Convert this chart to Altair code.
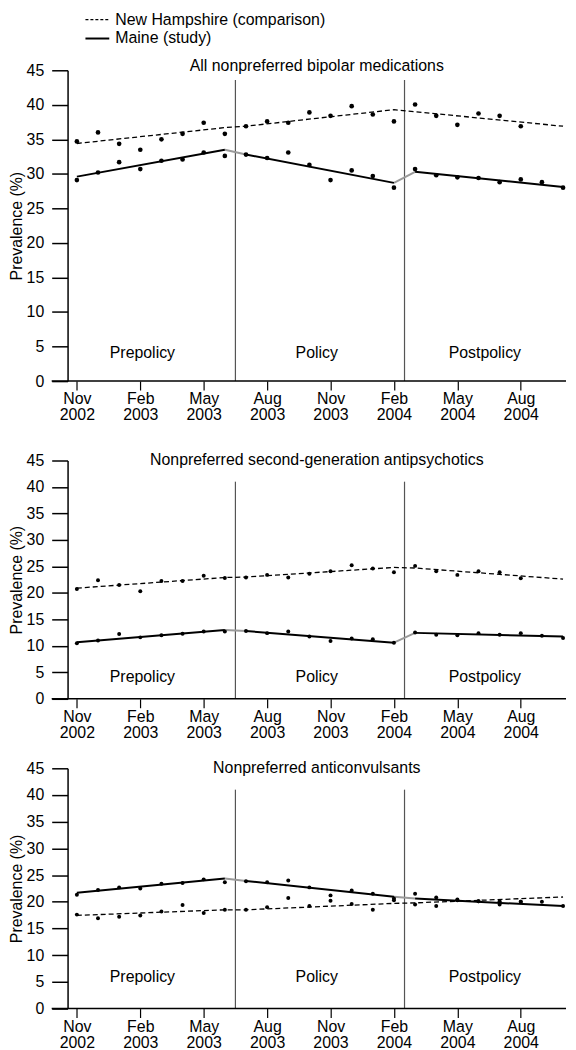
import altair as alt
import pandas as pd

FONT = "Liberation Sans"

# ---------------- data ----------------
month_index = list(range(24))          # Nov 2002 ... Oct 2004
tick_positions = [0, 3, 6, 9, 12, 15, 18, 21]
tick_months = ["Nov", "Feb", "May", "Aug", "Nov", "Feb", "May", "Aug"]
tick_years = ["2002", "2003", "2003", "2003", "2003", "2004", "2004", "2004"]

panel_titles = [
    "All nonpreferred bipolar medications",
    "Nonpreferred second-generation antipsychotics",
    "Nonpreferred anticonvulsants",
]
legend_labels = ["New Hampshire (comparison)", "Maine (study)"]
period_labels = ["Prepolicy", "Policy", "Postpolicy"]
period_label_x = [3.1, 11.35, 19.3]
period_label_y = [[4.0] * 3, [4.2] * 3, [6.0] * 3]
policy_breaks = [7.5, 15.5]
policy_rule_top = [43.6, 41.0, 41.0]
fit_months = [0, 7, 8, 15, 16, 23]

# New Hampshire monthly points (Nov 2002 - Aug 2004)
nh_bipolar = [34.7, 36.0, 34.35, 33.5, 35.0, 35.8, 37.4, 35.8, 36.9, 37.6, 37.4,
              38.9, 38.4, 39.8, 38.6, 37.6, 40.05, 38.4, 37.1, 38.75, 38.4, 36.9]
nh_sga = [20.75, 22.4, 21.5, 20.3, 22.25, 22.25, 23.25, 22.8, 22.9, 23.4, 22.9,
          23.6, 24.1, 25.2, 24.6, 23.9, 25.1, 24.1, 23.4, 24.1, 23.9, 22.75]
nh_ac = [17.6, 16.9, 17.2, 17.45, 18.2, 19.4, 17.9, 18.5, 18.5, 19.0, 20.7,
         19.2, 20.2, 19.6, 18.5, 20.3, 19.5, 19.2, 20.3, 20.1, 19.5, 20.0]

# Maine monthly points (Nov 2002 - Oct 2004)
me_bipolar = [29.1, 30.2, 31.7, 30.7, 31.9, 32.1, 33.1, 32.6, 32.8, 32.3, 33.1, 31.3,
              29.1, 30.5, 29.7, 28.0, 30.7, 29.8, 29.5, 29.4, 28.8, 29.2, 28.8, 28.0]
me_sga = [10.5, 11.0, 12.25, 11.6, 12.0, 12.3, 12.7, 12.7, 12.8, 12.4, 12.7, 11.75,
          10.9, 11.4, 11.25, 10.6, 12.5, 12.1, 12.0, 12.4, 12.1, 12.4, 11.9, 11.5]
me_ac = [21.3, 22.2, 22.7, 22.5, 23.4, 23.5, 24.2, 23.65, 23.85, 23.65, 24.0, 22.7,
         21.2, 22.1, 21.5, 20.6, 21.5, 20.8, 20.45, 20.1, 20.1, 20.0, 20.0, 19.2]

# segmented-regression fitted values at [Nov02, Jun03, Jul03, Feb04, Mar04, Oct04]
nh_fit_bipolar = [34.4, 36.7, 36.9, 39.3, 39.0, 36.9]
me_fit_bipolar = [29.6, 33.5, 32.8, 28.7, 30.3, 28.1]
nh_fit_sga = [20.9, 22.9, 23.0, 24.8, 24.7, 22.6]
me_fit_sga = [10.7, 13.0, 12.8, 10.6, 12.45, 11.75]
nh_fit_ac = [17.45, 18.5, 18.5, 19.7, 19.8, 20.9]
me_fit_ac = [21.7, 24.35, 23.9, 20.95, 20.6, 19.2]

panels_data = [
    (nh_bipolar, me_bipolar, nh_fit_bipolar, me_fit_bipolar),
    (nh_sga, me_sga, nh_fit_sga, me_fit_sga),
    (nh_ac, me_ac, nh_fit_ac, me_fit_ac),
]

# ---------------- layout ----------------
W = 502
heights = [313, 240, 242]
point_sizes = [22, 16, 16]

label_expr = "[" + ",".join(
    f"['{m}','{y}']" for m, y in zip(tick_months, tick_years)
) + "][round(datum.value/3)]"

xs = alt.Scale(domain=[-0.44, 23.14], nice=False, zero=False)
ys = alt.Scale(domain=[0, 45], nice=False, zero=False)

x_axis = alt.Axis(values=tick_positions, labelExpr=label_expr, tickSize=9,
                  domain=False, grid=False, labelFontSize=16, labelLineHeight=16,
                  labelPadding=1, tickColor="black", tickWidth=1.2,
                  labelColor="black", labelFont=FONT, labelOverlap=False,
                  labelFlush=False, title="")
y_axis = alt.Axis(values=list(range(0, 46, 5)), tickSize=16, grid=False,
                  domainColor="black", domainWidth=1.5, tickColor="black",
                  tickWidth=1.5, labelFontSize=16, labelFont=FONT,
                  labelColor="black", labelPadding=8, title="Prevalence (%)",
                  titleFont=FONT, titleFontSize=16, titleFontWeight="normal",
                  titleColor="black", titlePadding=2)


def X(field):
    return alt.X(field, scale=xs, axis=x_axis, title="")


def Y(field):
    return alt.Y(field, scale=ys, axis=y_axis, title="Prevalence (%)")


def panel(i, show_legend):
    nh_vals, me_vals, nh_fit, me_fit = panels_data[i]
    H = heights[i]

    pts = pd.DataFrame({
        "month": month_index[:len(nh_vals)] + month_index[:len(me_vals)],
        "value": nh_vals + me_vals,
        "state": ["NH"] * len(nh_vals) + ["ME"] * len(me_vals),
    })
    points = alt.Chart(pts).mark_circle(color="black", opacity=1,
                                        size=point_sizes[i]).encode(
        x=X("month:Q"), y=Y("value:Q"))

    nh_df = pd.DataFrame({"month": fit_months, "value": nh_fit})
    nh_line = alt.Chart(nh_df).mark_line(color="black", strokeWidth=1.3,
                                         strokeDash=[5, 3]).encode(
        x=X("month:Q"), y=Y("value:Q"))

    me_df = pd.DataFrame({
        "month": fit_months,
        "value": me_fit,
        "seg": ["pre", "pre", "pol", "pol", "post", "post"],
    })
    me_line = alt.Chart(me_df).mark_line(color="black", strokeWidth=2).encode(
        x=X("month:Q"), y=Y("value:Q"), detail="seg:N")

    conn_df = pd.DataFrame({
        "month": fit_months[1:5],
        "value": me_fit[1:5],
        "seg": ["c1", "c1", "c2", "c2"],
    })
    me_conn = alt.Chart(conn_df).mark_line(color="#9a9a9a", strokeWidth=2).encode(
        x=X("month:Q"), y=Y("value:Q"), detail="seg:N")

    rules_df = pd.DataFrame({"month": policy_breaks,
                             "value": [policy_rule_top[i]] * 2,
                             "bottom": [0, 0]})
    policy_rules = alt.Chart(rules_df).mark_rule(color="#555555", strokeWidth=1.2).encode(
        x=X("month:Q"), y=Y("value:Q"), y2="bottom:Q")

    base_df = pd.DataFrame({"value": [0]})
    baseline = alt.Chart(base_df).mark_rule(color="black", strokeWidth=1.5).encode(
        y=Y("value:Q"), x=alt.value(-16), x2=alt.value(W))

    per_df = pd.DataFrame({"month": period_label_x, "value": period_label_y[i],
                           "label": period_labels})
    periods = alt.Chart(per_df).mark_text(font=FONT, fontSize=16, color="black",
                                         baseline="middle").encode(
        x=X("month:Q"), y=Y("value:Q"), text="label:N")

    title = alt.Chart(base_df).mark_text(
        text=panel_titles[i], font=FONT, fontSize=16, color="black",
        baseline="middle").encode(
        x=alt.value(W / 2), y=alt.value(-4 if i == 0 else 0))

    layers = [policy_rules, baseline, nh_line, me_conn, me_line, points, periods, title]

    if show_legend:
        leg_nh = alt.Chart(base_df).mark_rule(color="black", strokeWidth=1.3,
                                             strokeDash=[3, 2]).encode(
            x=alt.value(18), x2=alt.value(42), y=alt.value(-51))
        leg_me = alt.Chart(base_df).mark_rule(color="black", strokeWidth=2).encode(
            x=alt.value(18), x2=alt.value(42), y=alt.value(-32))
        leg_t1 = alt.Chart(base_df).mark_text(
            text=legend_labels[0], font=FONT, fontSize=16, color="black",
            align="left", baseline="middle").encode(
            x=alt.value(48), y=alt.value(-51))
        leg_t2 = alt.Chart(base_df).mark_text(
            text=legend_labels[1], font=FONT, fontSize=16, color="black",
            align="left", baseline="middle").encode(
            x=alt.value(48), y=alt.value(-32))
        layers += [leg_nh, leg_me, leg_t1, leg_t2]

    return alt.layer(*layers).properties(width=W, height=H)


lower = alt.vconcat(panel(1, False), panel(2, False), spacing=70, bounds="flush")
chart = alt.vconcat(
    panel(0, True), lower, spacing=80, bounds="flush",
).properties(padding=0).configure_view(stroke=None)

chart.save("out.html", embed_options={"renderer": "svg", "actions": False})
